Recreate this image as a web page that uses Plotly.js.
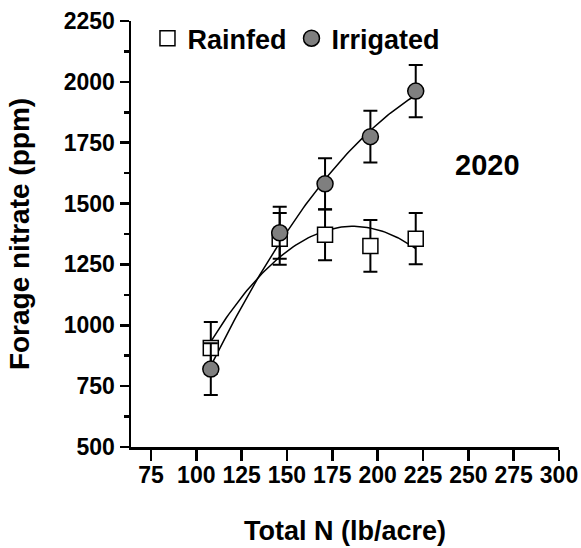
<!DOCTYPE html>
<html>
<head>
<meta charset="utf-8">
<script src="https://cdn.plot.ly/plotly-3.0.1.min.js"></script>
<style>html,body{margin:0;padding:0;background:#fff;}#chart{width:581px;height:548px;}</style>
</head>
<body>
<div id="chart"></div>
<script>
// Data
var totalN = [108, 146, 171, 196, 221];
var rainfed = [907, 1355, 1372, 1326, 1356];
var rainfedErr = [106, 106, 105, 106, 105];
var irrigated = [820, 1380, 1581, 1775, 1962];
var irrigatedErr = [106, 107, 105, 106, 107];
var xTicks = [75, 100, 125, 150, 175, 200, 225, 250, 275, 300];
var yTicks = [500, 750, 1000, 1250, 1500, 1750, 2000, 2250];
var seriesNames = ['Rainfed', 'Irrigated'];
var yearLabel = '2020';

// Quadratic least-squares fit (second-order polynomial) computed from the data
function quadFit(xs, ys) {
  var n = xs.length, s = [0,0,0,0,0], t = [0,0,0];
  for (var i = 0; i < n; i++) {
    var p = 1;
    for (var k = 0; k < 5; k++) { s[k] += p; if (k < 3) t[k] += p * ys[i]; p *= xs[i]; }
  }
  var A = [[s[0], s[1], s[2], t[0]], [s[1], s[2], s[3], t[1]], [s[2], s[3], s[4], t[2]]];
  for (var c = 0; c < 3; c++) {
    for (var r = c + 1; r < 3; r++) {
      var f = A[r][c] / A[c][c];
      for (var j = c; j < 4; j++) A[r][j] -= f * A[c][j];
    }
  }
  var b = [0,0,0];
  for (var r2 = 2; r2 >= 0; r2--) {
    var v = A[r2][3];
    for (var j2 = r2 + 1; j2 < 3; j2++) v -= A[r2][j2] * b[j2];
    b[r2] = v / A[r2][r2];
  }
  return b;
}
function curve(xs, ys) {
  var b = quadFit(xs, ys);
  var x0 = Math.min.apply(null, xs), x1 = Math.max.apply(null, xs);
  var cx = [], cy = [];
  for (var i = 0; i <= 80; i++) {
    var x = x0 + (x1 - x0) * i / 80;
    cx.push(x); cy.push(b[0] + b[1] * x + b[2] * x * x);
  }
  return {x: cx, y: cy};
}
var cR = curve(totalN, rainfed);
var cI = curve(totalN, irrigated);

var FONT = 'Liberation Sans, Arial, Helvetica, sans-serif';

var traces = [
  {x: cR.x, y: cR.y, mode: 'lines', line: {color: '#000', width: 1.5}, showlegend: false, hoverinfo: 'skip'},
  {x: cI.x, y: cI.y, mode: 'lines', line: {color: '#000', width: 1.5}, showlegend: false, hoverinfo: 'skip'},
  {x: totalN, y: rainfed, name: seriesNames[0], mode: 'markers', type: 'scatter',
   marker: {symbol: 'square', size: 15, color: '#ffffff', line: {color: '#000', width: 1.5}},
   error_y: {type: 'data', array: rainfedErr, visible: true, color: '#000', thickness: 2, width: 7}},
  {x: totalN, y: irrigated, name: seriesNames[1], mode: 'markers', type: 'scatter',
   marker: {symbol: 'circle', size: 16, color: '#7f7f7f', line: {color: '#000', width: 1.5}},
   error_y: {type: 'data', array: irrigatedErr, visible: true, color: '#000', thickness: 2, width: 7}}
];

var layout = {
  width: 581, height: 548,
  margin: {l: 131, r: 22, t: 21, b: 101, pad: 0},
  paper_bgcolor: '#fff', plot_bgcolor: '#fff',
  font: {family: FONT, color: '#000'},
  showlegend: true,
  legend: {orientation: 'h', x: 0.0385, y: 1.016, xanchor: 'left', yanchor: 'top',
    font: {family: FONT, size: 27, weight: 'bold', color: '#000'},
    bgcolor: 'rgba(0,0,0,0)', traceorder: 'normal', itemwidth: 30},
  xaxis: {
    range: [64, 300], tickvals: xTicks, ticktext: xTicks.map(String),
    showgrid: false, zeroline: false, showline: true, linecolor: '#000', linewidth: 2.5,
    ticks: 'outside', ticklen: 11, tickwidth: 2.5, tickcolor: '#000',
    ticklabelstandoff: -5,
    tickfont: {family: FONT, size: 23, weight: 'bold', color: '#000'},
    title: {text: 'Total N (lb/acre)', font: {family: FONT, size: 27, weight: 'bold', color: '#000'}, standoff: 34}
  },
  yaxis: {
    range: [500, 2250], tickvals: yTicks, ticktext: yTicks.map(String),
    showgrid: false, zeroline: false, showline: true, linecolor: '#000', linewidth: 2.5,
    ticks: 'outside', ticklen: 9, tickwidth: 2.5, tickcolor: '#000',
    minor: {dtick: 125, tick0: 500, ticks: 'outside', ticklen: 5, tickwidth: 2.5, tickcolor: '#000', showgrid: false},
    tickfont: {family: FONT, size: 23, weight: 'bold', color: '#000'},
    title: {text: 'Forage nitrate (ppm)', font: {family: FONT, size: 28, weight: 'bold', color: '#000'}, standoff: 26}
  },
  annotations: [
    {text: yearLabel, x: 241.4, y: 1660, xref: 'x', yref: 'y', xanchor: 'left', yanchor: 'middle', showarrow: false,
     font: {family: FONT, size: 29, weight: 'bold', color: '#000'}}
  ]
};

Plotly.newPlot('chart', traces, layout, {staticPlot: true, displayModeBar: false});
</script>
</body>
</html>
